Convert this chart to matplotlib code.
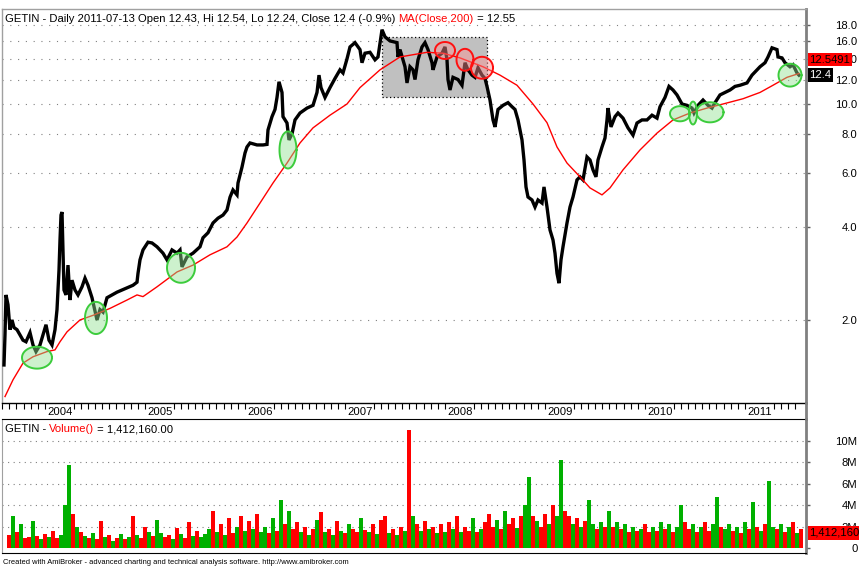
import matplotlib
matplotlib.use('Agg')
import numpy as np
import matplotlib.pyplot as plt
from matplotlib.ticker import FixedLocator, NullLocator
from matplotlib.lines import Line2D
import matplotlib.transforms as mtransforms

FONT = ['Liberation Sans', 'DejaVu Sans']
plt.rcParams['font.family'] = FONT

# closing prices (decimal year, price)
close_t = [2003.59, 2003.60, 2003.61, 2003.63, 2003.65, 2003.67, 2003.69, 2003.72, 2003.75, 2003.78,
           2003.81, 2003.85, 2003.88, 2003.91, 2003.95, 2003.98, 2004.01, 2004.04, 2004.07, 2004.10,
           2004.12, 2004.14, 2004.15, 2004.16, 2004.17, 2004.18, 2004.19, 2004.21, 2004.23, 2004.25,
           2004.27, 2004.30, 2004.33, 2004.37, 2004.40, 2004.43, 2004.47, 2004.52, 2004.55, 2004.58,
           2004.62, 2004.67, 2004.72, 2004.77, 2004.82, 2004.88, 2004.92, 2004.93, 2004.95, 2004.98,
           2005.03, 2005.07, 2005.12, 2005.18, 2005.22, 2005.27, 2005.32, 2005.35, 2005.37, 2005.42,
           2005.48, 2005.55, 2005.58, 2005.63, 2005.68, 2005.73, 2005.78, 2005.82, 2005.85, 2005.88,
           2005.92, 2005.93, 2005.97, 2006.00, 2006.02, 2006.05, 2006.12, 2006.18, 2006.22, 2006.23,
           2006.27, 2006.30, 2006.32, 2006.34, 2006.37, 2006.38, 2006.42, 2006.44, 2006.47, 2006.50,
           2006.55, 2006.62, 2006.68, 2006.72, 2006.74, 2006.76, 2006.80, 2006.85, 2006.90, 2006.95,
           2006.98, 2007.02, 2007.05, 2007.10, 2007.15, 2007.17, 2007.20, 2007.25, 2007.30, 2007.33,
           2007.37, 2007.40, 2007.45, 2007.52, 2007.53, 2007.55, 2007.60, 2007.62, 2007.65, 2007.68,
           2007.70, 2007.73, 2007.77, 2007.80, 2007.83, 2007.87, 2007.88, 2007.92, 2007.97, 2008.00,
           2008.02, 2008.03, 2008.05, 2008.08, 2008.13, 2008.17, 2008.20, 2008.23, 2008.27, 2008.30,
           2008.33, 2008.37, 2008.40, 2008.42, 2008.45, 2008.48, 2008.50, 2008.53, 2008.58, 2008.63,
           2008.67, 2008.70, 2008.73, 2008.77, 2008.79, 2008.81, 2008.83, 2008.87, 2008.90, 2008.93,
           2008.97, 2008.99, 2009.02, 2009.05, 2009.08, 2009.10, 2009.12, 2009.14, 2009.16, 2009.18,
           2009.22, 2009.25, 2009.28, 2009.32, 2009.35, 2009.38, 2009.42, 2009.45, 2009.48, 2009.51,
           2009.53, 2009.57, 2009.60, 2009.62, 2009.63, 2009.66, 2009.70, 2009.73, 2009.78, 2009.83,
           2009.88, 2009.92, 2009.97, 2010.02, 2010.07, 2010.12, 2010.15, 2010.20, 2010.24, 2010.28,
           2010.32, 2010.37, 2010.42, 2010.47, 2010.49, 2010.53, 2010.58, 2010.63, 2010.67, 2010.70,
           2010.75, 2010.80, 2010.85, 2010.90, 2010.95, 2011.02, 2011.07, 2011.12, 2011.15, 2011.20,
           2011.23, 2011.27, 2011.32, 2011.33, 2011.37, 2011.40, 2011.45, 2011.48, 2011.52, 2011.54]
close_p = [1.43, 1.79, 2.41, 2.24, 1.86, 2.00, 1.89, 1.86, 1.79, 1.72,
           1.70, 1.82, 1.66, 1.58, 1.66, 1.79, 1.93, 1.72, 1.66, 1.86,
           2.16, 2.90, 3.63, 4.37, 4.47, 3.37, 2.50, 2.41, 3.01, 2.32,
           2.69, 2.50, 2.41, 2.56, 2.73, 2.59, 2.36, 2.00, 2.16, 2.12,
           2.36, 2.41, 2.46, 2.50, 2.54, 2.59, 2.65, 2.83, 3.13, 3.37,
           3.57, 3.55, 3.45, 3.29, 3.13, 3.37, 3.29, 3.37, 2.97, 3.20,
           3.29, 3.45, 3.69, 3.83, 4.12, 4.27, 4.37, 4.54, 4.99, 5.27,
           5.08, 5.55, 6.25, 6.94, 7.26, 7.48, 7.37, 7.37, 7.40, 8.24,
           9.10, 9.60, 10.5, 11.8, 10.9, 9.10, 8.68, 7.65, 8.00, 8.88,
           9.35, 9.70, 9.90, 10.9, 12.4, 11.3, 10.5, 11.3, 12.1, 12.9,
           12.6, 14.0, 15.3, 15.8, 15.0, 13.6, 14.6, 14.7, 13.9, 14.2,
           17.4, 16.5, 16.0, 15.8, 14.2, 15.0, 13.2, 11.7, 13.2, 12.9,
           12.0, 13.9, 15.3, 15.8, 15.0, 13.6, 12.9, 14.2, 14.6, 15.3,
           13.9, 12.0, 11.1, 12.2, 12.0, 11.5, 13.6, 12.9, 12.4, 12.2,
           13.1, 12.4, 12.1, 11.4, 10.3, 8.88, 8.43, 9.60, 9.90, 10.1,
           9.80, 9.60, 8.88, 7.65, 6.59, 5.39, 5.00, 4.89, 4.64, 4.89,
           4.78, 5.39, 4.64, 3.91, 3.63, 3.29, 2.83, 2.63, 3.13, 3.45,
           4.12, 4.64, 5.00, 5.68, 5.81, 5.68, 6.74, 6.59, 6.12, 5.81,
           6.59, 7.26, 7.76, 8.88, 9.70, 8.43, 9.10, 9.35, 9.00, 8.37,
           7.93, 8.68, 8.88, 8.88, 9.20, 9.00, 9.80, 10.5, 11.4, 11.1,
           10.7, 10.0, 9.90, 9.70, 9.35, 9.90, 10.3, 9.90, 9.70, 10.1,
           10.7, 10.9, 11.1, 11.4, 11.5, 11.7, 12.4, 12.9, 13.2, 13.6,
           14.2, 15.2, 15.0, 14.2, 14.1, 13.6, 13.2, 13.4, 12.6, 12.4]

# MA(Close,200) as drawn
ma_t = [2003.60, 2003.68, 2003.78, 2003.88, 2004.02, 2004.10, 2004.15, 2004.22, 2004.35, 2004.48,
        2004.65, 2004.82, 2004.92, 2004.98, 2005.12, 2005.32, 2005.48, 2005.65, 2005.82, 2005.92,
        2006.02, 2006.15, 2006.28, 2006.42, 2006.55, 2006.68, 2006.85, 2007.02, 2007.15, 2007.35,
        2007.55, 2007.82, 2007.98, 2008.15, 2008.38, 2008.55, 2008.72, 2008.88, 2009.02, 2009.12,
        2009.22, 2009.35, 2009.45, 2009.57, 2009.65, 2009.78, 2009.95, 2010.12, 2010.28, 2010.45,
        2010.62, 2010.78, 2010.98, 2011.15, 2011.28, 2011.42, 2011.54]
ma_p = [1.13, 1.28, 1.45, 1.52, 1.58, 1.60, 1.70, 1.83, 2.00, 2.07,
        2.18, 2.32, 2.41, 2.38, 2.56, 2.86, 3.01, 3.25, 3.45, 3.71,
        4.12, 4.78, 5.55, 6.44, 7.48, 8.37, 9.20, 10.0, 11.3, 12.9,
        14.2, 14.7, 14.6, 14.1, 13.2, 12.4, 11.5, 10.0, 8.70, 7.26,
        6.44, 5.81, 5.35, 5.08, 5.35, 6.12, 7.10, 8.05, 8.88, 9.35,
        9.70, 10.0, 10.4, 10.9, 11.5, 12.2, 12.55]

# volume (millions), one bar per ~0.04 year, colour g=up r=down
vol_start = 2003.62
vol_step = 0.04
vol_m = [1.2, 3.0, 1.5, 2.2, 0.9, 1.0, 2.5, 1.1, 0.8, 1.3,
         1.0, 1.6, 0.9, 1.2, 4.0, 7.8, 3.2, 2.0, 1.5, 1.1,
         0.9, 1.4, 0.8, 2.5, 1.0, 1.2, 0.7, 0.9, 1.3, 0.8,
         1.0, 3.0, 1.2, 0.9, 2.0, 1.5, 1.1, 2.6, 1.4, 1.0,
         1.2, 0.8, 1.9, 1.3, 0.9, 2.4, 1.1, 1.6, 1.0, 1.3,
         1.8, 3.5, 1.5, 2.2, 1.2, 2.8, 1.4, 2.0, 3.0, 1.6,
         2.5, 1.8, 3.2, 1.5, 2.0, 1.4, 2.8, 1.6, 4.5, 2.2,
         3.5, 1.8, 2.4, 1.5, 2.0, 1.2, 1.8, 2.6, 3.4, 1.5,
         1.8, 1.2, 2.5, 1.6, 1.4, 2.2, 1.8, 1.5, 2.8, 1.7,
         1.5, 2.2, 1.3, 2.6, 3.0, 1.4, 1.8, 1.2, 2.0, 1.6,
         11.0, 3.0, 2.2, 1.6, 2.5, 1.8, 2.0, 1.4, 2.2, 1.5,
         2.4, 1.8, 3.0, 1.5, 2.0, 1.6, 2.8, 1.5, 1.8, 2.4,
         3.2, 2.0, 2.6, 1.8, 3.5, 2.2, 2.8, 1.9, 3.0, 4.0,
         6.6, 3.0, 2.5, 2.0, 3.2, 2.2, 4.0, 3.0, 8.2, 3.5,
         3.0, 2.2, 2.8, 2.0, 2.5, 4.5, 2.2, 1.8, 2.4, 2.0,
         3.5, 2.0, 2.4, 1.8, 2.2, 1.5, 2.0, 1.6, 1.8, 2.2,
         1.5, 2.0, 1.6, 2.4, 1.8, 2.2, 1.5, 2.0, 4.0, 2.4,
         1.8, 2.2, 1.5, 2.0, 2.4, 1.6, 2.2, 4.8, 2.0, 1.8,
         2.2, 1.6, 2.0, 1.4, 2.4, 1.8, 4.3, 2.0, 1.6, 2.2,
         6.3, 2.0, 1.8, 2.2, 1.5, 2.0, 2.4, 1.4, 1.8]
vol_dir = ("rgrgrrgrgr" "grrgggrgrg" "rgrrgrgrgr" "grgrrgrggr" "rgrgrrgrgg"
           "grgrgrrgrg" "rgrggrgrgr" "grrgrgrgrg" "rgrgrgrrgr" "grgrrgrgrg"
           "rgrgrgrgrg" "rgrgrrgrgr" "rrgrgrrgrg" "grgrrgrggr" "rgrgrggrgr"
           "grgrgrgrgr" "rgrgrgrggr" "rgrgrrggrg" "grgrgrgrgr" "ggrgrgrgr")

# highlighted zones: centre year, centre price, width (years), height (decades)
green_t = [2003.92, 2004.51, 2005.36, 2006.43, 2010.35, 2010.48, 2010.65, 2011.45]
green_p = [1.51, 2.03, 2.95, 7.10, 9.30, 9.35, 9.40, 12.4]
green_w = [0.30, 0.22, 0.28, 0.17, 0.20, 0.08, 0.27, 0.23]
green_h = [0.071, 0.104, 0.097, 0.120, 0.049, 0.074, 0.065, 0.074]
red_t = [2008.00, 2008.20, 2008.37]
red_p = [14.9, 13.9, 13.1]
red_w = [0.20, 0.17, 0.22]
red_h = [0.055, 0.071, 0.071]
box_t = [2007.37, 2008.42]
box_p = [10.5, 16.5]

price_ticks = [2, 4, 6, 8, 10, 12, 14, 16, 18]
vol_ticks = [0, 2, 4, 6, 8, 10]
vol_labels = ['0', '2M', '4M', '6M', '8M', '10M']
years = [2004, 2005, 2006, 2007, 2008, 2009, 2010, 2011]

W, H = 859, 566
fig = plt.figure(figsize=(W / 100, H / 100), dpi=100)

def px_axes(x0, y0, x1, y1):
    return fig.add_axes([x0 / W, (H - y1) / H, (x1 - x0) / W, (y1 - y0) / H])

ax = px_axes(2, 9, 806, 403)
axv = px_axes(2, 419, 806, 553)

XMIN, XMAX = 2003.57, 2011.61
FS = 8.1

def ellipse(a, t, p, w, h, edge, face):
    th = np.linspace(0, 2 * np.pi, 120)
    xs = t + w / 2 * np.cos(th)
    ys = p * 10 ** (h / 2 * np.sin(th))
    a.fill(xs, ys, facecolor=face, edgecolor='none', alpha=0.45, zorder=4)
    a.plot(xs, ys, color=edge, lw=1.4, zorder=5)

# ---- price pane
ax.set_yscale('log')
ax.set_xlim(XMIN, XMAX)
ax.set_ylim(1.077, 20.3)
ax.fill([box_t[0], box_t[1], box_t[1], box_t[0]], [box_p[0], box_p[0], box_p[1], box_p[1]],
        facecolor='#c0c0c0', edgecolor='black', ls=(0, (1, 2)), lw=0.9, zorder=1)
for p in price_ticks:
    ax.axhline(p, color='#808080', lw=0.8, ls=(0, (1, 6)), zorder=0.5)
ax.plot(close_t, close_p, color='black', lw=2.4, zorder=3, solid_joinstyle='miter')
ax.plot(ma_t, ma_p, color='#ff0000', lw=1.0, zorder=3.5)
for i in range(len(green_t)):
    ellipse(ax, green_t[i], green_p[i], green_w[i], green_h[i], '#3ccc3c', '#90e090')
for i in range(len(red_t)):
    ellipse(ax, red_t[i], red_p[i], red_w[i], red_h[i], '#ff1010', '#ff9090')

ax.yaxis.tick_right()
ax.yaxis.set_major_locator(FixedLocator(price_ticks))
ax.yaxis.set_minor_locator(NullLocator())
ax.set_yticklabels(['%.1f' % p for p in price_ticks])
ax.tick_params(axis='y', direction='out', length=3, width=1, color='#606060',
               pad=34, labelsize=FS, labelcolor='black')
for lb in ax.get_yticklabels():
    lb.set_horizontalalignment('right')

mticks = []
for y in range(2003, 2012):
    mticks.append(y)
    for k in range(4, 14):
        mticks.append(y + k / 14)
mticks = [m for m in mticks if XMIN < m < 2011.56]
ax.set_xticks(mticks)
ax.set_xticklabels([])
ax.tick_params(axis='x', direction='out', length=4, width=0.8, color='black')
blend = mtransforms.blended_transform_factory(ax.transData, ax.transAxes)
for y in years:
    ax.text(y + 0.02, -0.031, str(y), transform=blend, fontsize=FS, ha='left', va='baseline')

for s in ['left', 'top']:
    ax.spines[s].set_color('#a0a0a0')
    ax.spines[s].set_linewidth(1)
ax.spines['right'].set_color('#808080')
ax.spines['right'].set_linewidth(2)
ax.spines['bottom'].set_color('black')
ax.spines['bottom'].set_linewidth(1)

t1 = ax.text(0.0037, 0.963, 'GETIN - Daily 2011-07-13 Open 12.43, Hi 12.54, Lo 12.24, Close 12.4 (-0.9%) ',
             transform=ax.transAxes, fontsize=FS, va='bottom', ha='left', zorder=10)
t2 = ax.annotate('MA(Close,200)', xy=(1, 0), xycoords=t1, fontsize=FS, va='bottom', ha='left',
                 color='#ff0000', zorder=10)
ax.annotate(' = 12.55', xy=(1, 0), xycoords=t2, fontsize=FS, va='bottom', ha='left', zorder=10)

rblend = mtransforms.blended_transform_factory(ax.transAxes, ax.transData)
ax.annotate('12.5491', xy=(1, ma_p[-1]), xycoords=rblend, xytext=(2.5, 10), textcoords='offset points',
            fontsize=FS, va='center', ha='left', color='black', zorder=20, annotation_clip=False,
            bbox=dict(boxstyle='square,pad=0.15', fc='#ff0000', ec='none'))
ax.annotate('12.4', xy=(1, close_p[-1]), xycoords=rblend, xytext=(2.5, 0), textcoords='offset points',
            fontsize=FS, va='center', ha='left', color='white', zorder=20, annotation_clip=False,
            bbox=dict(boxstyle='square,pad=0.15', fc='black', ec='none'))

# ---- volume pane
axv.set_xlim(XMIN, XMAX)
axv.set_ylim(-0.467, 12.06)
vx = [vol_start + vol_step * i for i in range(len(vol_m))]
vc = ['#00b000' if c == 'g' else '#ff0000' for c in vol_dir]
axv.bar(vx, vol_m, width=vol_step, color=vc, align='edge', zorder=2, linewidth=0)
for v in vol_ticks[1:]:
    axv.axhline(v, color='#808080', lw=0.8, ls=(0, (1, 4)), zorder=0.5)
axv.yaxis.tick_right()
axv.yaxis.set_major_locator(FixedLocator(vol_ticks))
axv.set_yticklabels(vol_labels)
axv.tick_params(axis='y', direction='out', length=3, width=1, color='#606060',
                pad=34, labelsize=FS)
for lb in axv.get_yticklabels():
    lb.set_horizontalalignment('right')
axv.set_xticks([])
axv.spines['left'].set_color('#a0a0a0')
axv.spines['right'].set_color('#808080')
axv.spines['right'].set_linewidth(2)
axv.spines['top'].set_color('black')
axv.spines['bottom'].set_color('black')

v1 = axv.text(0.0037, 0.885, 'GETIN - ', transform=axv.transAxes, fontsize=FS, va='bottom', ha='left')
v2 = axv.annotate('Volume()', xy=(1, 0), xycoords=v1, fontsize=FS, va='bottom', ha='left', color='#ff0000')
axv.annotate(' = 1,412,160.00', xy=(1, 0), xycoords=v2, fontsize=FS, va='bottom', ha='left')
vblend = mtransforms.blended_transform_factory(axv.transAxes, axv.transData)
axv.annotate('1,412,160', xy=(1, 1.41216), xycoords=vblend, xytext=(2.5, 0), textcoords='offset points',
             fontsize=FS, va='center', ha='left', color='black', zorder=20, annotation_clip=False,
             bbox=dict(boxstyle='square,pad=0.15', fc='#ff0000', ec='none'))

fig.add_artist(Line2D([806 / W, 806 / W], [(H - 419) / H, (H - 403) / H], color='#808080', lw=2))

fig.text(3 / W, 2.5 / H, 'Created with AmiBroker - advanced charting and technical analysis software. http://www.amibroker.com',
         fontsize=5.4, ha='left', va='baseline')

fig.savefig('out.png', dpi=100)
